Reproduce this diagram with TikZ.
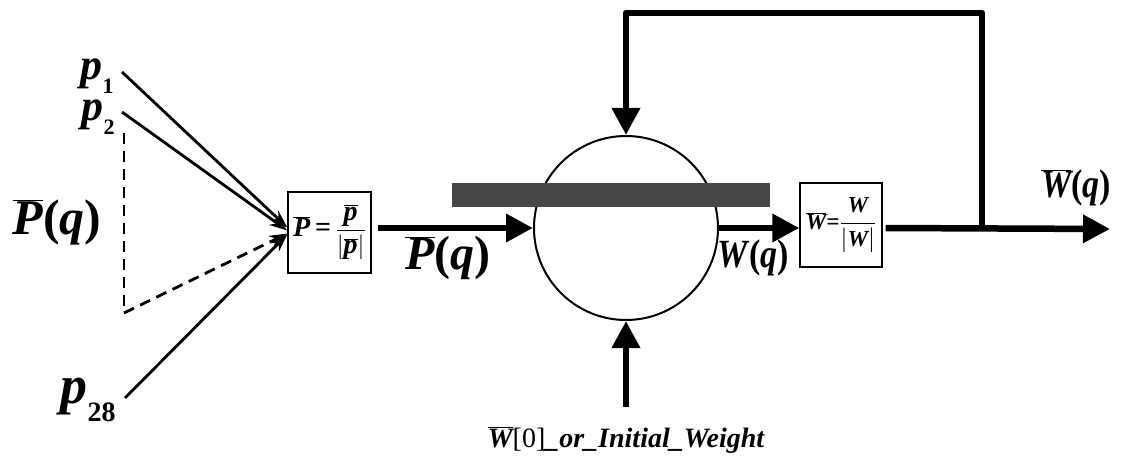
\documentclass[tikz,border=0pt]{standalone}
\usepackage{fontspec}
\setmainfont{Liberation Serif}
\usetikzlibrary{arrows.meta}
\newcommand{\bi}{\bfseries\itshape}
\newcommand{\ovl}[1]{$\overline{\hbox{#1}}$}
\newcommand{\lsub}[2]{\raisebox{-0.32em}{\fontsize{#1}{#1}\selectfont\upshape #2}}
\newcommand{\myfrac}[2]{$\displaystyle\frac{\hbox{#1}}{\hbox{#2}}$}
\tikzset{
  thickarrow/.style={line width=6.5pt, -{Triangle[length=27pt,width=27pt]}},
  thinarrow/.style={line width=2.8pt, -{Stealth[length=18pt,width=12pt]}},
  dasharrow/.style={line width=2.8pt, dash pattern=on 11pt off 7pt, -{Stealth[length=18pt,width=12pt]}},
  boxnode/.style={draw, line width=1.4pt, inner sep=0pt},
  lab/.style={inner sep=0pt},
}
\begin{document}
\begin{tikzpicture}[x=1pt,y=-1pt]
\useasboundingbox (0,0) rectangle (1127,468);

% summing circle
\node[draw, circle, line width=2pt, minimum size=184pt, inner sep=0pt] (c) at (626,228) {};
% obscured band
\fill[black!72] (452,183) rectangle (770,207);

% boxes
\node[boxnode, minimum width=83pt, minimum height=81pt] (b1) at (329.5,232.5) {};
\node[lab, font=\fontsize{28}{28}\selectfont\bi] (t1) at (b1.center)
  {\ovl{P}\,=\,\myfrac{\ovl{p}}{$|$\ovl{p}$|$}};
\node[boxnode, minimum width=82pt, minimum height=84pt] (b2) at (841,225) {};
\node[lab, font=\fontsize{23}{23}\selectfont\bi] (t2) at (b2.center)
  {\ovl{W}=\myfrac{W}{$|$W$|$}};

% labels
\node[lab, font=\fontsize{44}{44}\selectfont\bi] (p1) at (97,76) {p\lsub{22}{1}};
\node[lab, font=\fontsize{44}{44}\selectfont\bi] (p2) at (98,117) {p\lsub{22}{2}};
\node[lab, font=\fontsize{54}{54}\selectfont\bi] (p28) at (88,400) {p\lsub{28}{28}};
\node[lab, font=\fontsize{50}{50}\selectfont\bi] (Pq) at (57,222) {\ovl{P}\textup{(}q\textup{)}};
\node[lab, font=\fontsize{48}{48}\selectfont\bi] (Pq2) at (448,258) {\ovl{P}\textup{(}q\textup{)}};
\node[lab, font=\fontsize{40}{40}\selectfont\bi, xscale=0.85] (Wq) at (753,258) {W\textup{(}q\textup{)}};
\node[lab, font=\fontsize{40}{40}\selectfont\bi, xscale=0.85] (Wq2) at (1076,188) {\ovl{W}\textup{(}q\textup{)}};
\node[lab, font=\fontsize{28}{28}\selectfont\bi] (init) at (626,440) {\ovl{W}\textmd{\upshape[0]}\_or\_Initial\_Weight};

% coordinates
\coordinate (s1) at (122,72);
\coordinate (s2) at (122,112);
\coordinate (s28) at (125,398);
\coordinate (d1) at (124,133);
\coordinate (d2) at (124,313);
\coordinate (j) at (982,229);
\coordinate (top) at (982,13);
\coordinate (out) at (1110,229);
\coordinate (bs) at (626,407);

% input lines
\draw[thinarrow] (s1) -- ([yshift=5pt]b1.west);
\draw[thinarrow] (s2) -- ([yshift=2pt]b1.west);
\draw[thinarrow] (s28) -- ([yshift=-2pt]b1.west);
\draw[line width=2.8pt, dash pattern=on 11pt off 7pt] (d1) -- (d2);
\draw[dasharrow] (d2) -- ([yshift=-1pt]b1.west);

% main flow
\draw[thickarrow] ([xshift=6pt]b1.east |- c) -- (c.west);
\draw[thickarrow] (c.east) -- (b2.west |- c);
\draw[thickarrow] ([xshift=3pt]b2.east |- c) -- (out);
\draw[thickarrow, line join=round] (j) -- (top) -- (top -| c) -- (c.north);
\draw[thickarrow] (bs) -- (c.south);
\end{tikzpicture}
\end{document}
